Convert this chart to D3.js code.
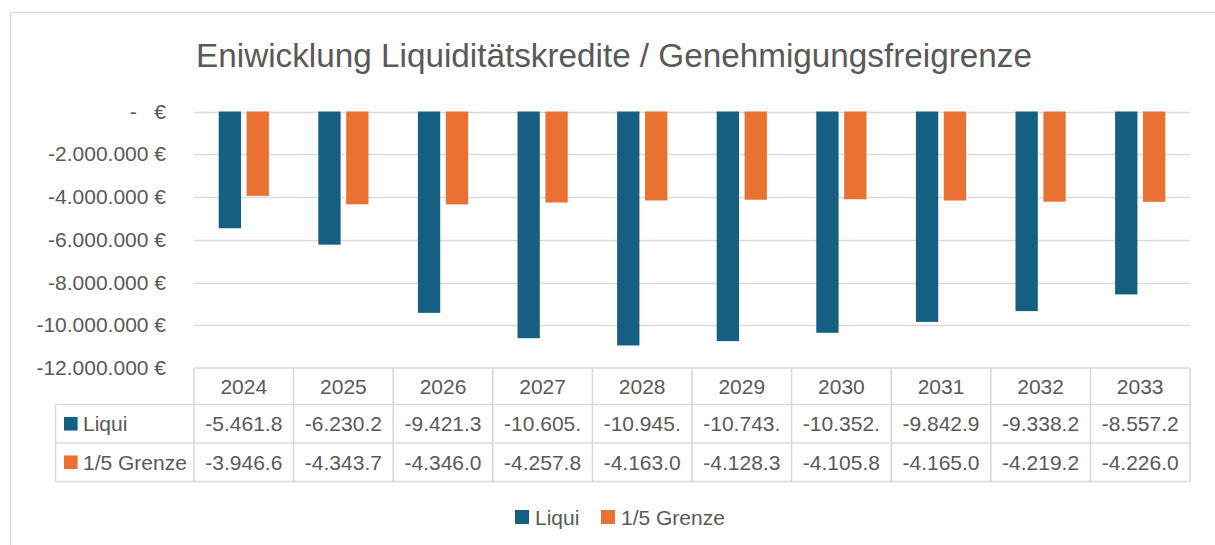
<!DOCTYPE html>
<html><head><meta charset="utf-8">
<script src="https://cdn.jsdelivr.net/npm/d3@7"></script>
<style>
html,body{margin:0;padding:0;background:#fff;}
svg{display:block;font-family:"Liberation Sans",Arial,sans-serif;}
text{white-space:pre;}
</style></head>
<body>
<svg id="chart" width="1215" height="545"></svg>
<script>
const title = "Eniwicklung Liquiditätskredite / Genehmigungsfreigrenze";
const years = ["2024","2025","2026","2027","2028","2029","2030","2031","2032","2033"];
const seriesNames = ["Liqui","1/5 Grenze"];
const liqui = [-5461800,-6230200,-9421300,-10605500,-10945500,-10743500,-10352500,-9842900,-9338200,-8557200];
const grenze = [-3946600,-4343700,-4346000,-4257800,-4163000,-4128300,-4105800,-4165000,-4219200,-4226000];
const yTicks = [0,-2000000,-4000000,-6000000,-8000000,-10000000,-12000000];
const colors = ["#156082","#E97132"];

(function(){
const svg = d3.select("#chart");
const textColor = "#595959", gridColor = "#D9D9D9";
const fs = 21;

svg.append("rect").attr("x",10.5).attr("y",12.5).attr("width",1215).attr("height",545)
  .attr("fill","#fff").attr("stroke",gridColor).attr("stroke-width",1.2);

const t = svg.append("text").attr("x",614).attr("y",67).attr("text-anchor","middle")
  .attr("fill",textColor).attr("font-size",31).text(title);
const tw = t.node().getComputedTextLength();
t.attr("font-size", 31*836/tw);

const pLeft = 194, pRight = 1190, pTop = 111.5, pBottom = 368;
const x = d3.scaleBand().domain(years).range([pLeft,pRight]).paddingInner(0).paddingOuter(0);
const bw = x.bandwidth();
const xs = d3.scaleBand().domain(seriesNames).range([bw*0.248, bw*0.752]).paddingInner(0.2).paddingOuter(0);
const y = d3.scaleLinear().domain([-12000000,0]).range([pBottom,pTop]);

svg.append("g").selectAll("line").data(yTicks.filter(d=>d>-12000000)).join("line")
  .attr("x1",pLeft).attr("x2",pRight).attr("y1",d=>Math.round(y(d))+0.5).attr("y2",d=>Math.round(y(d))+0.5)
  .attr("stroke",gridColor).attr("stroke-width",1.5);

const loc = d3.formatLocale({decimal:",", thousands:".", grouping:[3], currency:["","€"], minus:"-"});
const fmtNum = loc.format(",.0f");
const yLab = d => d===0 ? "-   €" : fmtNum(d)+" €";
const yAxis = d3.axisLeft(y).tickValues(yTicks).tickFormat(yLab).tickSize(0).tickPadding(0);
const ga = svg.append("g").attr("transform","translate(166,0)").call(yAxis);
ga.select(".domain").remove();
ga.selectAll("text").attr("font-size",fs).attr("fill",textColor)
  .attr("font-family","'Liberation Sans',Arial,sans-serif");

const data = [liqui, grenze];
const g = svg.append("g");
data.forEach((vals,si)=>{
  g.selectAll(null).data(vals).join("rect")
    .attr("x",(d,i)=>x(years[i])+xs(seriesNames[si]))
    .attr("width",xs.bandwidth())
    .attr("y",y(0))
    .attr("height",d=>y(d)-y(0))
    .attr("fill",colors[si]);
});

const tblLeft = 55.5, rowH = [368,404.5,443,481.5];
const tg = svg.append("g");
const lineAttr = sel => sel.attr("stroke",gridColor).attr("stroke-width",1.6).attr("fill","none");
tg.append("line").attr("x1",pLeft).attr("x2",pRight).attr("y1",rowH[0]).attr("y2",rowH[0]).call(lineAttr);
[1,2,3].forEach(r=>tg.append("line").attr("x1",tblLeft).attr("x2",pRight).attr("y1",rowH[r]).attr("y2",rowH[r]).call(lineAttr));
tg.append("line").attr("x1",tblLeft).attr("x2",tblLeft).attr("y1",rowH[1]).attr("y2",rowH[3]).call(lineAttr);
years.concat(["end"]).forEach((yr,i)=>{
  const xx = i<years.length ? x(yr) : pRight;
  tg.append("line").attr("x1",xx).attr("x2",xx).attr("y1",rowH[0]).attr("y2",rowH[3]).call(lineAttr);
});
tg.selectAll(null).data(years).join("text")
  .attr("x",d=>x(d)+bw/2).attr("y",(rowH[0]+rowH[1])/2).attr("dy","0.36em")
  .attr("text-anchor","middle").attr("font-size",fs).attr("fill",textColor).text(d=>d);
const cellTxt = d => (fmtNum(d)+" €").slice(0,8);
data.forEach((vals,si)=>{
  const cy = (rowH[si+1]+rowH[si+2])/2;
  tg.append("rect").attr("x",64).attr("y",cy-6.8).attr("width",13.6).attr("height",13.6).attr("fill",colors[si]);
  tg.append("text").attr("x",83).attr("y",cy).attr("dy","0.36em").attr("font-size",fs).attr("fill",textColor).text(seriesNames[si]);
  tg.selectAll(null).data(vals).join("text")
    .attr("x",(d,i)=>x(years[i])+bw/2).attr("y",cy).attr("dy","0.36em")
    .attr("text-anchor","middle").attr("font-size",fs).attr("fill",textColor).text(cellTxt);
});

const lg = svg.append("g");
const legX = [515, 601];
seriesNames.forEach((n,i)=>{
  lg.append("rect").attr("x",legX[i]).attr("y",510).attr("width",14).attr("height",14).attr("fill",colors[i]);
  lg.append("text").attr("x",legX[i]+20).attr("y",517).attr("dy","0.36em").attr("font-size",fs).attr("fill",textColor).text(n);
});
})();
</script>
</body></html>
